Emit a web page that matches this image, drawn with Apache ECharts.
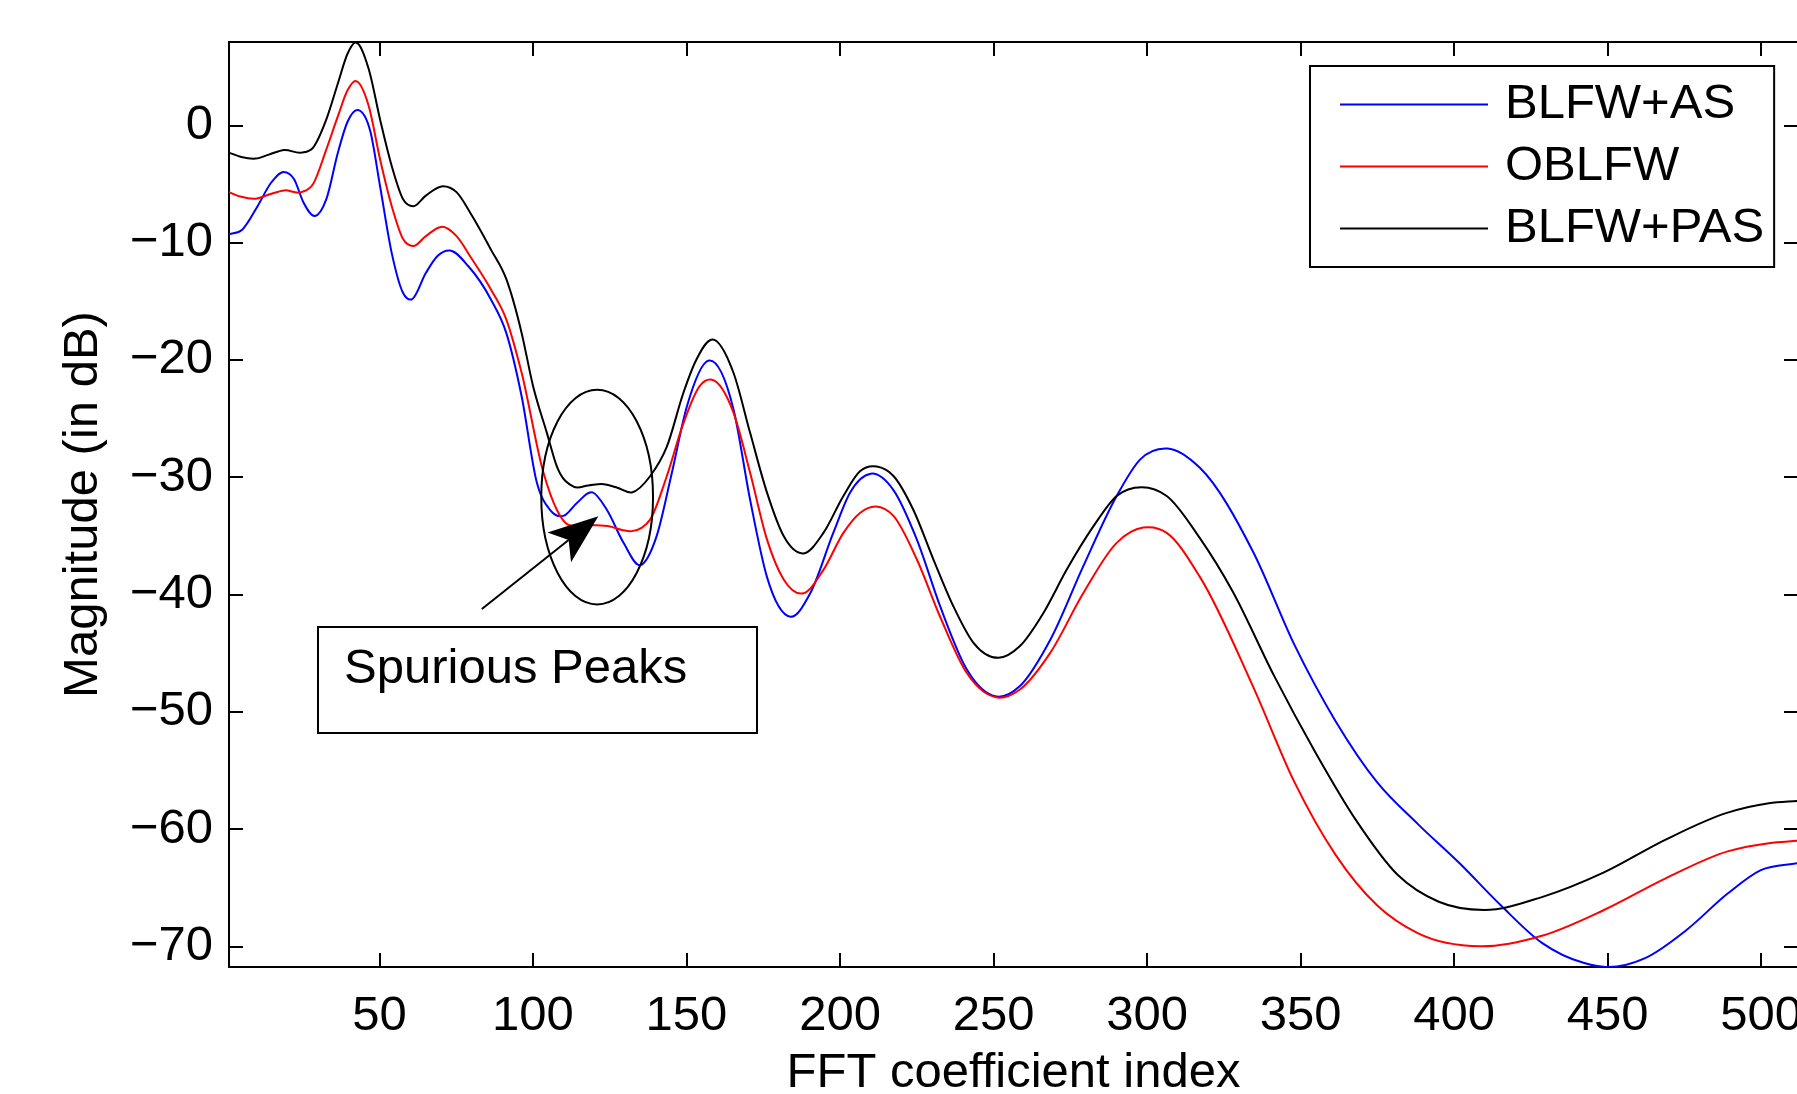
<!DOCTYPE html>
<html><head><meta charset="utf-8">
<script src="https://cdn.jsdelivr.net/npm/echarts@6/dist/echarts.min.js"></script>
<style>html,body{margin:0;padding:0;background:#fff}#c{width:1797px;height:1094px}</style>
</head><body><div id="c"></div>
<script>
// ---- data ----
const xTicks = [50,100,150,200,250,300,350,400,450,500];
const yTicks = [-70,-60,-50,-40,-30,-20,-10,0];
const seriesNames = ['BLFW+AS','OBLFW','BLFW+PAS'];

const blueX = [1,5.3,10.3,14.7,18.8,22.2,25.3,29,32.7,36.5,39.6,43,47.1,50.2,54,57.7,60.5,65.1,68.9,73,78.9,86.3,91.3,96.3,101.3,105.6,109.9,114.3,119.4,124.1,129.5,134.9,140.3,145,150.1,157.3,165.3,170.7,176.2,183.9,190.3,197.8,203.3,210,217.4,225,232.6,241.3,251,258.6,268.4,279.2,290.1,297.7,306.6,317.2,334.6,348,361.4,374.9,388.3,401.7,415.2,428.6,442.1,449.5,462.2,475.7,489.1,499.9,512];
const blueY = [-9.3,-8.9,-6.9,-4.9,-3.98,-4.6,-6.6,-7.74,-6.3,-2.3,0.3,1.3,-0.6,-5.2,-10.9,-14.3,-14.85,-12.6,-11.15,-10.67,-12.0,-14.85,-17.7,-23.1,-30.5,-32.8,-33.3,-32.2,-31.3,-32.8,-35.6,-37.5,-35.0,-29.9,-24.0,-20.05,-24.2,-31.9,-38.5,-41.9,-39.9,-34.75,-31.3,-29.7,-31.1,-35.3,-41.0,-46.4,-48.7,-47.8,-43.9,-37.6,-31.6,-28.5,-27.55,-29.2,-36.4,-44.3,-50.8,-56.0,-59.6,-62.9,-66.5,-69.7,-71.4,-71.76,-71.0,-68.6,-65.5,-63.5,-62.9];

const redX = [1,5,9.7,14,19,24.6,28.4,32.7,36.5,39.6,42.1,46.5,50.2,54,57.7,61,65.1,70.7,75.1,80.1,86.3,91.3,96.3,103.4,107.8,111,115,119.7,125.1,129,132.2,135.5,138.2,143.6,149,154.4,158.3,165.3,170.7,176.2,181.6,188.1,194.6,201.1,206.5,211.7,217.4,225,232.6,241.3,251.6,258.6,268.4,279.2,290.1,298.7,306.4,317.2,334.6,348,361.4,374.9,388.3,408.5,428.6,448.8,468.9,489.1,502.5,512];
const redY = [-5.7,-6.1,-6.26,-5.9,-5.55,-5.7,-5.0,-2.05,0.8,2.98,3.78,1.65,-2.9,-6.9,-9.7,-10.3,-9.45,-8.65,-9.45,-11.4,-14.0,-16.55,-21.1,-29.6,-32.8,-34.0,-34.1,-34.1,-34.2,-34.5,-34.6,-34.3,-33.6,-29.9,-25.4,-22.2,-21.7,-24.5,-29.6,-35.3,-38.7,-39.9,-37.9,-34.75,-33.05,-32.5,-33.3,-37.0,-41.9,-46.7,-48.8,-48.1,-45.0,-39.9,-35.6,-34.3,-34.75,-38.5,-47.9,-56.0,-62.2,-66.5,-68.9,-70.0,-69.1,-66.9,-64.2,-61.9,-61.2,-61.0];

const blackX = [1,5,9.7,14,19,24.6,28.4,32.7,36.5,39.6,42.1,46.5,50.2,54,57.7,61,65.1,70.7,75.1,80.1,86.3,91.3,96.3,100,104.5,107.8,113.2,118,123,127.5,132.2,138.2,143.6,149,153,158.4,165.3,170.7,176.2,181.6,188.1,194.6,201.1,206.5,212,217.4,223.9,230.4,236.9,243.4,251.6,258.6,266.2,273.8,282.5,290.1,298.3,306.4,317.2,327.8,341.3,354.7,368.2,381.6,395,409.8,428.6,448.8,468.9,489.1,502.5,512];
const blackY = [-2.33,-2.7,-2.84,-2.5,-2.1,-2.33,-1.9,0.5,3.6,6.1,7.05,4.8,0.5,-3.47,-6.3,-6.9,-6.0,-5.2,-5.7,-7.7,-10.6,-13.1,-17.7,-22.2,-26.2,-29.1,-30.8,-30.7,-30.6,-30.9,-31.3,-29.9,-27.4,-22.8,-20.1,-18.26,-21.1,-26.2,-31.3,-35.0,-36.5,-34.75,-31.6,-29.5,-29.1,-29.9,-32.8,-37.0,-41.0,-44.1,-45.4,-44.4,-41.6,-37.9,-34.2,-31.6,-30.85,-31.6,-35.2,-39.7,-46.9,-53.4,-59.3,-63.9,-66.2,-66.9,-65.8,-63.7,-60.9,-58.6,-57.8,-57.6];

// annotation (data coordinates)
const annotText = 'Spurious Peaks';
const ellipseCenter = [120.9, -31.7];
const ellipseRadius = [18.2, 9.15];
const arrowFrom = [83.35, -41.24];
const arrowTo = [121.3, -33.34];

// ---- chart ----
const FONT = '"Liberation Sans", Arial, Helvetica, sans-serif';
const FS = 49;
const chart = echarts.init(document.getElementById('c'), null, {renderer: 'canvas'});
const zip = (xs, ys) => xs.map((x, i) => [x, ys[i]]);
const minus = v => (v < 0 ? '\u2212' + Math.abs(v) : String(v));

const axisLine = {show: true, onZero: false, lineStyle: {color: '#000', width: 2}};
const tickX = {show: true, inside: true, length: 14, lineStyle: {color: '#000', width: 2}, customValues: xTicks};
const tickY = {show: true, inside: true, length: 14, lineStyle: {color: '#000', width: 2}, customValues: yTicks};

// smooth curve through the read points (cubic Hermite, drawn through the axis scales)
function curveSeries(name, color, xs, ys) {
  const n = xs.length;
  const m = xs.map((x, i) => {
    if (i === 0) return (ys[1] - ys[0]) / (xs[1] - xs[0]);
    if (i === n - 1) return (ys[n - 1] - ys[n - 2]) / (xs[n - 1] - xs[n - 2]);
    const h0 = x - xs[i - 1], h1 = xs[i + 1] - x;
    const d0 = (ys[i] - ys[i - 1]) / h0, d1 = (ys[i + 1] - ys[i]) / h1;
    return (d0 * h1 + d1 * h0) / (h0 + h1);
  });
  return {
    name, type: 'custom', coordinateSystem: 'cartesian2d', xAxisIndex: 0, yAxisIndex: 0,
    data: zip(xs, ys), encode: {x: 0, y: 1}, clip: true, z: 3,
    itemStyle: {color},
    renderItem(params, api) {
      if (params.dataIndex !== 0) return null;
      const p0 = api.coord([xs[0], ys[0]]);
      let d = 'M' + p0[0] + ' ' + p0[1];
      for (let i = 0; i < n - 1; i++) {
        const h = xs[i + 1] - xs[i];
        const c1 = api.coord([xs[i] + h / 3, ys[i] + m[i] * h / 3]);
        const c2 = api.coord([xs[i + 1] - h / 3, ys[i + 1] - m[i + 1] * h / 3]);
        const p = api.coord([xs[i + 1], ys[i + 1]]);
        d += 'C' + c1[0] + ' ' + c1[1] + ' ' + c2[0] + ' ' + c2[1] + ' ' + p[0] + ' ' + p[1];
      }
      return {type: 'path', shape: {pathData: d}, style: {stroke: color, fill: 'none', lineWidth: 2}, silent: true};
    }
  };
}

chart.setOption({
  animation: false,
  backgroundColor: '#fff',
  textStyle: {fontFamily: FONT},
  grid: {left: 229, right: -1, top: 42, bottom: 127, containLabel: false, outerBoundsMode: 'none'},
  xAxis: [
    {type: 'value', min: 1, max: 512, position: 'bottom', axisLine, axisTick: tickX,
     axisLabel: {customValues: xTicks, fontSize: FS, color: '#000', margin: 25, fontFamily: FONT},
     splitLine: {show: false},
     name: 'FFT coefficient index', nameLocation: 'middle', nameGap: 82,
     nameTextStyle: {fontSize: FS, color: '#000', fontFamily: FONT}},
    {type: 'value', min: 1, max: 512, position: 'top', axisLine, axisTick: tickX,
     axisLabel: {show: false}, splitLine: {show: false}}
  ],
  yAxis: [
    {type: 'value', min: -71.76, max: 7.1, position: 'left', axisLine, axisTick: tickY,
     axisLabel: {customValues: yTicks, fontSize: FS, color: '#000', margin: 16, fontFamily: FONT, formatter: minus, padding: [7, 0, 0, 0]},
     splitLine: {show: false},
     name: 'Magnitude (in dB)', nameLocation: 'middle', nameGap: 121, nameRotate: 90,
     nameTextStyle: {fontSize: FS, color: '#000', fontFamily: FONT}},
    {type: 'value', min: -71.76, max: 7.1, position: 'right', axisLine, axisTick: tickY,
     axisLabel: {show: false}, splitLine: {show: false}}
  ],
  legend: {
    data: seriesNames, orient: 'vertical', left: 1310, top: 66,
    icon: 'rect', itemWidth: 148, itemHeight: 2, itemGap: 13,
    padding: [14, 10, 14, 30],
    borderColor: '#000', borderWidth: 2, backgroundColor: '#fff',
    textStyle: {fontSize: FS, color: '#000', fontFamily: FONT, lineHeight: 48, padding: [0, 0, 0, 12]},
    selectedMode: false
  },
  series: [
    curveSeries(seriesNames[0], '#0000ff', blueX, blueY),
    curveSeries(seriesNames[1], '#ff0000', redX, redY),
    curveSeries(seriesNames[2], '#000000', blackX, blackY)
  ]
});

// annotations placed through the axis scales
const P = v => chart.convertToPixel({xAxisIndex: 0, yAxisIndex: 0}, v);
const c = P(ellipseCenter);
const cr = P([ellipseCenter[0] + ellipseRadius[0], ellipseCenter[1] + ellipseRadius[1]]);
const rx = Math.abs(cr[0] - c[0]), ry = Math.abs(c[1] - cr[1]);
const a0 = P(arrowFrom), a1 = P(arrowTo);
const dx = a1[0] - a0[0], dy = a1[1] - a0[1], L = Math.hypot(dx, dy);
const ux = dx / L, uy = dy / L, px = -uy, py = ux;
const headLen = 50, headHalf = 19, notch = 38;
const back = (d, s) => [a1[0] - ux * d + px * s, a1[1] - uy * d + py * s];

chart.setOption({
  graphic: [
    {type: 'ellipse', shape: {cx: c[0], cy: c[1], rx, ry}, style: {fill: 'none', stroke: '#000', lineWidth: 2}, z: 10},
    {type: 'line', shape: {x1: a0[0], y1: a0[1], x2: back(notch, 0)[0], y2: back(notch, 0)[1]}, style: {stroke: '#000', lineWidth: 2}, z: 10},
    {type: 'polygon', shape: {points: [a1, back(headLen, headHalf), back(notch, 0), back(headLen, -headHalf)]}, style: {fill: '#000'}, z: 10},
    {type: 'rect', shape: {x: 318, y: 627, width: 439, height: 106}, style: {fill: '#fff', stroke: '#000', lineWidth: 2}, z: 10},
    {type: 'text', x: 344, y: 669, style: {text: annotText, font: FS + 'px ' + FONT, fill: '#000', align: 'left', verticalAlign: 'middle', textAlign: 'left', textVerticalAlign: 'middle'}, z: 11}
  ]
});
</script>
</body></html>
